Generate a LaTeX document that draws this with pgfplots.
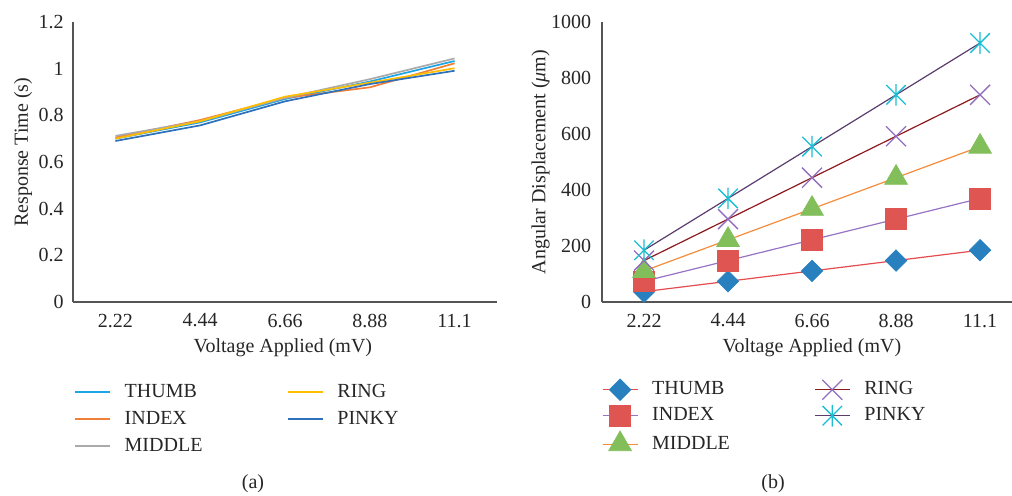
\documentclass[border=0pt]{standalone}
\usepackage{pgfplots}
\pgfplotsset{compat=1.18}
\usepackage{fontspec}
\setmainfont{Liberation Serif}

\definecolor{axisgray}{RGB}{85,85,85}
\definecolor{textgray}{RGB}{38,38,38}
% left chart
\definecolor{cThumb}{RGB}{30,165,230}
\definecolor{cIndex}{RGB}{240,128,55}
\definecolor{cMiddle}{RGB}{170,170,170}
\definecolor{cRing}{RGB}{255,190,0}
\definecolor{cPinky}{RGB}{46,112,185}
% right chart
\definecolor{lThumb}{RGB}{230,75,78}
\definecolor{mThumb}{RGB}{40,128,190}
\definecolor{lIndex}{RGB}{150,115,195}
\definecolor{mIndex}{RGB}{222,85,82}
\definecolor{lMiddle}{RGB}{245,140,60}
\definecolor{mMiddle}{RGB}{130,190,90}
\definecolor{lRing}{RGB}{140,25,30}
\definecolor{mRing}{RGB}{145,110,190}
\definecolor{lPinky}{RGB}{90,60,110}
\definecolor{mPinky}{RGB}{25,190,210}

\pgfdeclareplotmark{myx}{%
  \pgfpathmoveto{\pgfqpoint{-\pgfplotmarksize}{-\pgfplotmarksize}}%
  \pgfpathlineto{\pgfqpoint{\pgfplotmarksize}{\pgfplotmarksize}}%
  \pgfpathmoveto{\pgfqpoint{-\pgfplotmarksize}{\pgfplotmarksize}}%
  \pgfpathlineto{\pgfqpoint{\pgfplotmarksize}{-\pgfplotmarksize}}%
  \pgfusepathqstroke}
\pgfdeclareplotmark{xstar}{%
  \pgfpathmoveto{\pgfqpoint{0pt}{\pgfplotmarksize}}%
  \pgfpathlineto{\pgfqpoint{0pt}{-\pgfplotmarksize}}%
  \pgfpathmoveto{\pgfqpoint{-.9\pgfplotmarksize}{-.9\pgfplotmarksize}}%
  \pgfpathlineto{\pgfqpoint{.9\pgfplotmarksize}{.9\pgfplotmarksize}}%
  \pgfpathmoveto{\pgfqpoint{-.9\pgfplotmarksize}{.9\pgfplotmarksize}}%
  \pgfpathlineto{\pgfqpoint{.9\pgfplotmarksize}{-.9\pgfplotmarksize}}%
  \pgfusepathqstroke}

\pgfplotstableread{
x thumb index middle ring pinky
0 0.700 0.705 0.712 0.700 0.690
1 0.770 0.780 0.775 0.775 0.757
2 0.870 0.875 0.875 0.880 0.860
3 0.945 0.920 0.955 0.940 0.934
4 1.033 1.023 1.044 1.002 0.991
}\resptable

\pgfplotstableread{
x thumb index middle ring pinky
0 37 74 111 148 185
1 74 148 222 296 370
2 111 222 333 444 555
3 148 296 444 592 740
4 185 370 555 740 925
}\disptable

\pgfplotsset{
  chartbase/.style={
    font=\fontsize{10}{12}\selectfont,
    scale only axis,
    height=140pt,
    anchor=south west,
    axis x line*=bottom,
    axis y line*=left,
    axis line style={-, draw=axisgray, line width=0.65pt},
    major tick length=0pt,
    enlargelimits=false,
    xmin=-0.5, ymin=0,
    xtick={0,1,2,3,4},
    xticklabels={2.22,4.44,6.66,8.88,11.1},
    xticklabel style={anchor=north, inner sep=0pt, yshift=-5.7pt},
    /pgf/number format/assume math mode=true,
    /pgf/number format/1000 sep={},
    clip=false,
    legend cell align=left,
    legend style={anchor=north west, draw=none, fill=none, inner sep=0pt, outer sep=0pt,
      row sep=4.5pt, font=\fontsize{10}{12}\selectfont,
      nodes={inner sep=0pt, text height=7pt, text depth=2pt},
      /tikz/every odd column/.append style={column sep=7pt},
      legend columns=3, transpose legend},
  }
}

\begin{document}
\begin{tikzpicture}[text=textgray]
\path[use as bounding box] (0,0) rectangle (506pt,-247.5pt);

% ---------- (a) ----------
\begin{axis}[chartbase,
  at={(36.5pt,-151pt)},
  width=212pt, xmax=4.5, ymax=1.2,
  ytick={0,0.2,0.4,0.6,0.8,1,1.2},
  yticklabel style={anchor=east, inner sep=0pt, xshift=-4.5pt},
  xlabel={Voltage Applied (mV)},
  ylabel={Response Time (s)},
  xlabel style={at={(axis description cs:0.495,-0.164)}, anchor=center},
  ylabel style={at={(axis description cs:-0.118,0.535)}, anchor=center, rotate=0},
  legend image code/.code={\draw[#1] (0pt,0pt) -- (17.5pt,0pt);},
  legend style={at={(axis description cs:0.0024,-0.29)}},
]
\addplot[cThumb, line width=0.85pt] table[x=x,y=thumb] {\resptable};
\addlegendentry{\makebox[81pt][l]{THUMB}}
\addplot[cIndex, line width=0.85pt] table[x=x,y=index] {\resptable};
\addlegendentry{\makebox[81pt][l]{INDEX}}
\addplot[cMiddle, line width=0.85pt] table[x=x,y=middle] {\resptable};
\addlegendentry{\makebox[81pt][l]{MIDDLE}}
\addplot[cRing, line width=0.85pt] table[x=x,y=ring] {\resptable};
\addlegendentry{RING}
\addplot[cPinky, line width=0.85pt] table[x=x,y=pinky] {\resptable};
\addlegendentry{PINKY}
\end{axis}

% ---------- (b) ----------
\begin{axis}[chartbase,
  at={(301pt,-151pt)},
  width=205pt, xmax=4.38, ymax=1000,
  ytick={0,200,400,600,800,1000},
  yticklabel style={anchor=east, inner sep=0pt, xshift=-5.3pt},
  xlabel={Voltage Applied (mV)},
  ylabel={Angular Displacement (\textit{μ}m)},
  xlabel style={at={(axis description cs:0.512,-0.164)}, anchor=center},
  ylabel style={at={(axis description cs:-0.1495,0.5)}, anchor=center, rotate=0},
  legend image code/.code={\draw[mark repeat=2,mark phase=2,#1] plot coordinates {(0pt,0pt) (8.75pt,0pt) (17.5pt,0pt)};},
  legend style={at={(axis description cs:0,-0.275)}, row sep=2.2pt},
]
\addplot[lThumb, line width=0.6pt, mark=square*, mark size=3.8pt,
  mark options={rotate=45, fill=mThumb, draw=mThumb, line width=0.3pt}]
  table[x=x,y=thumb] {\disptable};
\addlegendentry{\makebox[81pt][l]{THUMB}}
\addplot[lIndex, line width=0.6pt, mark=square*, mark size=5.2pt,
  mark options={fill=mIndex, draw=mIndex, line width=0.3pt}]
  table[x=x,y=index] {\disptable};
\addlegendentry{\makebox[81pt][l]{INDEX}}
\addplot[lMiddle, line width=0.6pt, mark=triangle*, mark size=6.6pt,
  mark options={fill=mMiddle, draw=mMiddle, line width=0.3pt}]
  table[x=x,y=middle] {\disptable};
\addlegendentry{\makebox[81pt][l]{MIDDLE}}
\addplot[lRing, line width=0.6pt, mark=myx, mark size=5pt,
  mark options={draw=mRing, line width=0.65pt}]
  table[x=x,y=ring] {\disptable};
\addlegendentry{RING}
\addplot[lPinky, line width=0.6pt, mark=xstar, mark size=5.4pt,
  mark options={draw=mPinky, line width=0.65pt}]
  table[x=x,y=pinky] {\disptable};
\addlegendentry{PINKY}
\end{axis}

\node at (126.5pt,-242pt) {(a)};
\node at (386.5pt,-242pt) {(b)};
\end{tikzpicture}
\end{document}
